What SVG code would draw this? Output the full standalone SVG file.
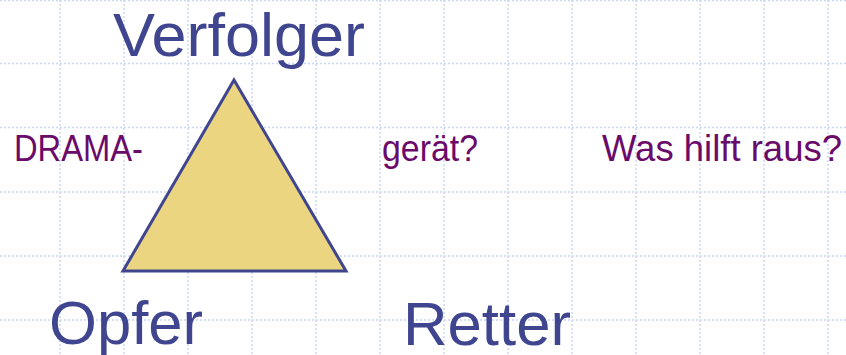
<svg xmlns="http://www.w3.org/2000/svg" width="846" height="355" viewBox="0 0 846 355">
<style>
.grid line{stroke:#c9d8f8;stroke-width:1.5;stroke-dasharray:2 2}
.big{font-family:"Liberation Sans",Arial,sans-serif;font-size:61px;fill:#3f468f}
.small{font-family:"Liberation Sans",Arial,sans-serif;font-size:37px;fill:#6a0a6a}
</style>
<rect width="846" height="355" fill="#ffffff"/>
<g class="grid">
<line x1="0" y1="0.5" x2="846" y2="0.5"/>
<line x1="0" y1="63.5" x2="846" y2="63.5"/>
<line x1="0" y1="127.5" x2="846" y2="127.5"/>
<line x1="0" y1="192" x2="846" y2="192"/>
<line x1="0" y1="256" x2="846" y2="256"/>
<line x1="0" y1="320" x2="846" y2="320"/>
<line x1="60" y1="0" x2="60" y2="355"/>
<line x1="124" y1="0" x2="124" y2="355"/>
<line x1="188" y1="0" x2="188" y2="355"/>
<line x1="252" y1="0" x2="252" y2="355"/>
<line x1="316" y1="0" x2="316" y2="355"/>
<line x1="380" y1="0" x2="380" y2="355"/>
<line x1="444" y1="0" x2="444" y2="355"/>
<line x1="508" y1="0" x2="508" y2="355"/>
<line x1="572" y1="0" x2="572" y2="355"/>
<line x1="636" y1="0" x2="636" y2="355"/>
<line x1="700" y1="0" x2="700" y2="355"/>
<line x1="764" y1="0" x2="764" y2="355"/>
<line x1="828" y1="0" x2="828" y2="355"/>
</g>
<g id="triangle">
<polygon points="234,80 123,271 346,271" fill="#ebd581" stroke="#3f468f" stroke-width="3" stroke-linejoin="miter"/>
</g>
<g id="verfolger"><text class="big" x="113" y="56" textLength="252" lengthAdjust="spacingAndGlyphs">Verfolger</text></g>
<g id="opfer"><text class="big" x="49" y="344" textLength="154" lengthAdjust="spacingAndGlyphs">Opfer</text></g>
<g id="retter"><text class="big" x="403" y="345" textLength="168" lengthAdjust="spacingAndGlyphs">Retter</text></g>
<g id="drama"><text class="small" x="14" y="161" textLength="129" lengthAdjust="spacingAndGlyphs">DRAMA-</text></g>
<g id="geraet"><text class="small" x="382" y="161" textLength="96" lengthAdjust="spacingAndGlyphs">gerät?</text></g>
<g id="washilft"><text class="small" x="602" y="161" textLength="240" lengthAdjust="spacingAndGlyphs">Was hilft raus?</text></g>
</svg>
